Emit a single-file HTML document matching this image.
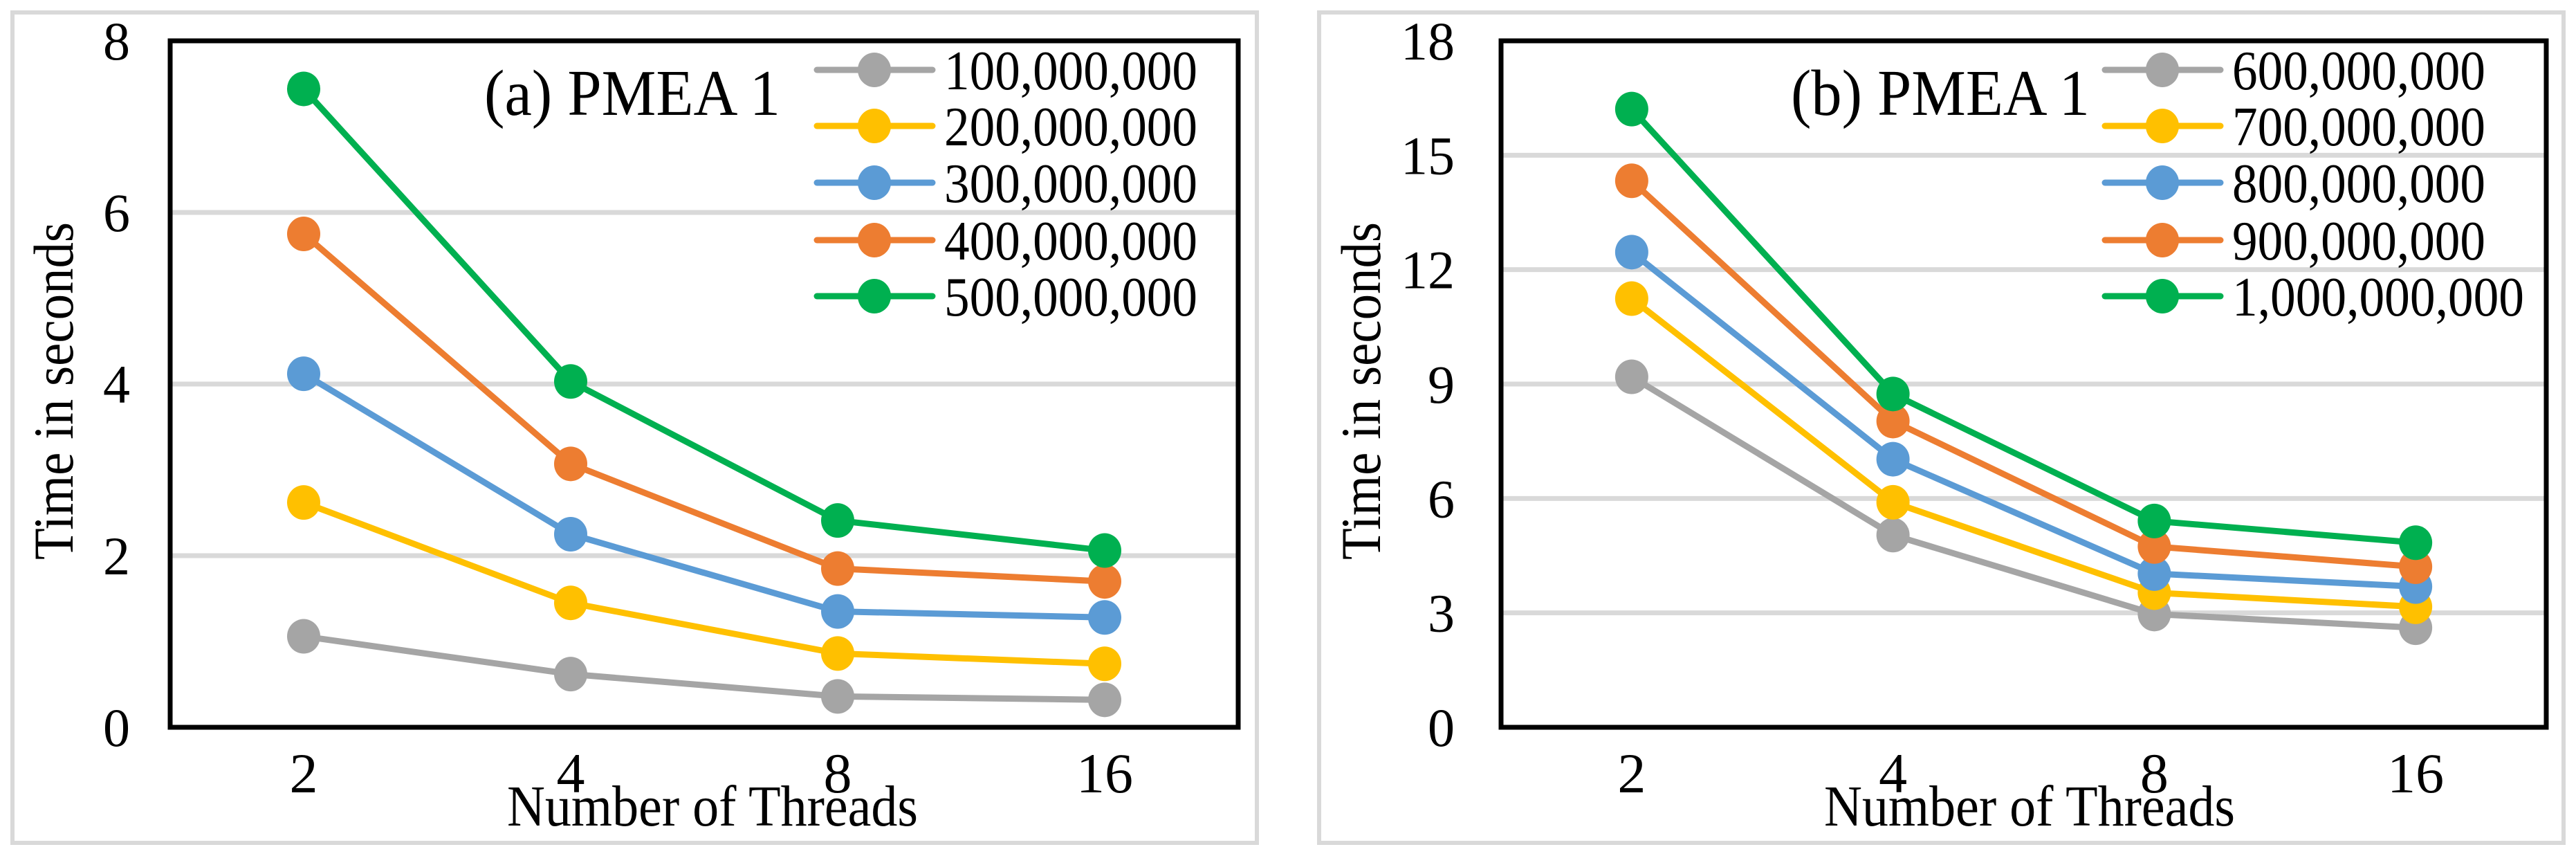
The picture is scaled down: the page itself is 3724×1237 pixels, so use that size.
<!DOCTYPE html>
<html><head><meta charset="utf-8">
<style>
html,body{margin:0;padding:0;background:#fff;}
svg{display:block;}
</style></head>
<body>
<svg id="chart" width="3724" height="1237" viewBox="0 0 3724 1237" xmlns="http://www.w3.org/2000/svg" font-family="'Liberation Serif', 'DejaVu Serif', serif">
</svg>
<script>
const categories = ["2","4","8","16"];
const colors = ["#a5a5a5","#ffc000","#5b9bd5","#ed7d31","#00b050"];
const leftNames = ["100,000,000","200,000,000","300,000,000","400,000,000","500,000,000"];
const leftTicks = [0,2,4,6,8];
const leftS1 = [1.06,0.62,0.36,0.32];
const leftS2 = [2.62,1.45,0.86,0.74];
const leftS3 = [4.12,2.25,1.35,1.28];
const leftS4 = [5.75,3.07,1.85,1.70];
const leftS5 = [7.44,4.03,2.41,2.06];
const rightNames = ["600,000,000","700,000,000","800,000,000","900,000,000","1,000,000,000"];
const rightTicks = [0,3,6,9,12,15,18];
const rightS1 = [9.19,5.04,2.97,2.61];
const rightS2 = [11.24,5.90,3.53,3.16];
const rightS3 = [12.46,7.03,4.03,3.69];
const rightS4 = [14.33,8.03,4.74,4.21];
const rightS5 = [16.21,8.74,5.41,4.84];

const NS = "http://www.w3.org/2000/svg";
const svg = document.getElementById("chart");
const FF = "'Liberation Serif', 'DejaVu Serif', serif";
function mk(tag, attrs, parent){
  const e = document.createElementNS(NS, tag);
  for (const k in attrs) e.setAttribute(k, attrs[k]);
  if (tag === "text") { e.setAttribute("font-family", FF); e.setAttribute("fill", "#000"); }
  (parent||svg).appendChild(e);
  return e;
}

function panel(cfg){
  const g = mk("g", {});
  
  
  const top = 59, bottom = 1051;
  const L = cfg.plotL, R = cfg.plotR;
  const maxV = cfg.ticks[cfg.ticks.length-1];
  const y = v => bottom - (v/maxV)*(bottom-top);
  const step = (R-L)/categories.length;
  const x = i => L + step*(i+0.5);

  const outer = mk("rect", {x:cfg.oL, y:18, width:cfg.oR-cfg.oL, height:1200, fill:"#fff", stroke:"#d9d9d9", "stroke-width":6}, g);
  
  

  cfg.ticks.forEach((t) => {
    if (t !== 0 && t !== maxV) {
      const gl = mk("line", {x1:L, x2:R, y1:y(t), y2:y(t), stroke:"#d9d9d9", "stroke-width":7}, g);
      
      
    }
    const tl = mk("text", {x:cfg.tickR, y:y(t)+27, "font-size":78, "text-anchor":"end"}, g);
    tl.textContent = t;
    
    
  });

  const pb = mk("rect", {x:L, y:top, width:R-L, height:bottom-top, fill:"none", stroke:"#000", "stroke-width":7}, g);
  
  

  categories.forEach((c,i) => {
    const t = mk("text", {x:x(i), y:1145, "font-size":82, "text-anchor":"middle"}, g);
    t.textContent = c;
    
    
  });

  cfg.series.forEach((s, si) => {
    const sg = mk("g", {}, g);
    
    
    const pts = s.map((v,i) => x(i)+","+y(v)).join(" ");
    const pl = mk("polyline", {points:pts, fill:"none", stroke:colors[si], "stroke-width":9, "stroke-linejoin":"round"}, sg);
    
    
    s.forEach((v,i) => {
      const m = mk("ellipse", {cx:x(i), cy:y(v), rx:24, ry:25, fill:colors[si]}, sg);
      
      
    });
  });

  const title = mk("text", {x:cfg.titleX, y:166, "font-size":94, textLength:cfg.titleW, lengthAdjust:"spacingAndGlyphs"}, g);
  title.textContent = cfg.title;
  
  

  const rows = [101,182,264,347,428];
  cfg.names.forEach((n, si) => {
    const lg = mk("g", {}, g);
    
    
    const ln = mk("line", {x1:cfg.legX-83, x2:cfg.legX+84, y1:rows[si], y2:rows[si], stroke:colors[si], "stroke-width":9, "stroke-linecap":"round"}, lg);
    
    
    const mm = mk("ellipse", {cx:cfg.legX, cy:rows[si], rx:24, ry:25, fill:colors[si]}, lg);
    
    
    const w = n.length > 11 ? 422 : 366;
    const tx = mk("text", {x:cfg.legX+101, y:rows[si]+28, "font-size":80, textLength:w, lengthAdjust:"spacingAndGlyphs"}, lg);
    tx.textContent = n;
    
    
  });

  const yt = mk("text", {x:0, y:0, "font-size":82, "text-anchor":"middle", textLength:488, lengthAdjust:"spacingAndGlyphs", transform:"translate("+(cfg.yTitleX)+",565) rotate(-90)"}, g);
  yt.textContent = "Time in seconds";
  
  

  const xt = mk("text", {x:cfg.xTitleX, y:1193, "font-size":84, "text-anchor":"middle", textLength:594, lengthAdjust:"spacingAndGlyphs"}, g);
  xt.textContent = "Number of Threads";
  
  
}

panel({id:"chart-a", oL:18, oR:1817, plotL:246, plotR:1790, tickR:188, ticks:leftTicks,
  series:[leftS1,leftS2,leftS3,leftS4,leftS5], names:leftNames,
  title:"(a) PMEA 1", titleX:700, titleW:428, legX:1264, yTitleX:105, xTitleX:1030});
panel({id:"chart-b", oL:1907, oR:3706, plotL:2170, plotR:3681, tickR:2103, ticks:rightTicks,
  series:[rightS1,rightS2,rightS3,rightS4,rightS5], names:rightNames,
  title:"(b) PMEA 1", titleX:2589, titleW:432, legX:3126, yTitleX:1995, xTitleX:2934});
</script>
</body></html>
